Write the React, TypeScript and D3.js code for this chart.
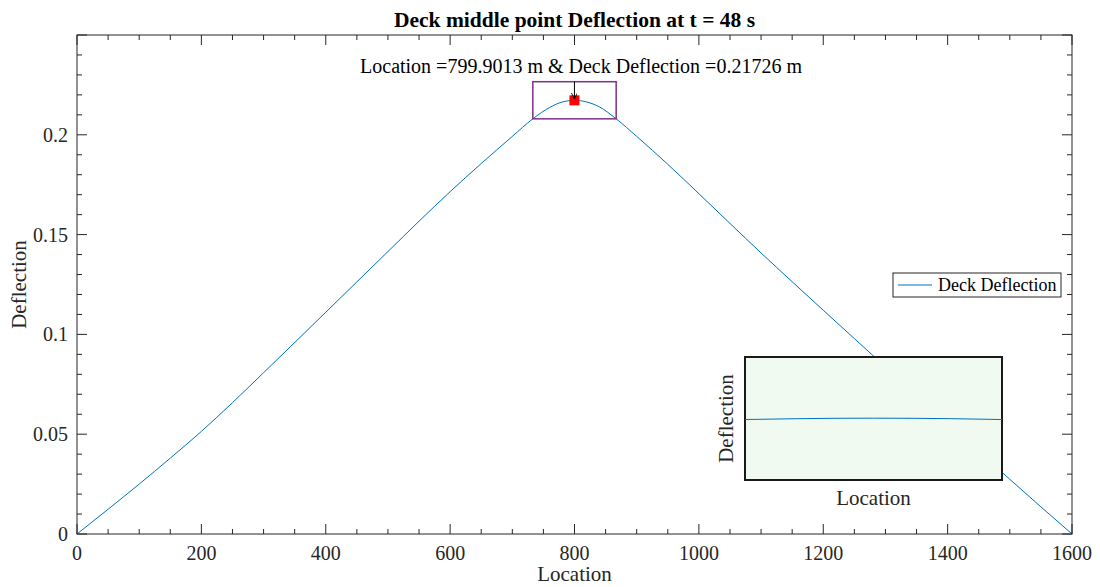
import React from "react";
import * as d3 from "d3";

const locations = [0, 50, 100, 150, 200, 250, 300, 350, 400, 450, 500, 550, 600, 650, 700, 733, 760, 780, 800, 820, 840, 867, 900, 950, 1000, 1050, 1100, 1150, 1200, 1250, 1300, 1350, 1400, 1450, 1500, 1550, 1600];
const deflections = [0, 0.0124, 0.025, 0.038, 0.0514, 0.0658, 0.0808, 0.0959, 0.1111, 0.1263, 0.1415, 0.1567, 0.1715, 0.1856, 0.1992, 0.208, 0.2137, 0.2164, 0.21726, 0.2164, 0.214, 0.208, 0.1992, 0.1852, 0.1705, 0.1556, 0.1408, 0.1264, 0.1121, 0.0979, 0.0837, 0.0696, 0.0555, 0.0414, 0.0274, 0.0136, 0];
const xTicks = [0, 200, 400, 600, 800, 1000, 1200, 1400, 1600];
const yTicks = [0, 0.05, 0.1, 0.15, 0.2];
const peakLocation = 799.9013;
const peakDeflection = 0.21726;
const zoomBox = { x0: 733, x1: 867, y0: 0.208, y1: 0.2266 };
const titleText = "Deck middle point Deflection at t = 48 s";
const annotationText = "Location =799.9013 m & Deck Deflection =0.21726 m";
const legendLabel = "Deck Deflection";

const W = 1100, H = 587;
const L = 77, R = 1072, T = 35, B = 534;
const FONT = "'Liberation Serif', 'Times New Roman', serif";
const AX = "#262626";
const BLUE = "#0072BD";

export default function App() {
  const x = d3.scaleLinear().domain([0, 1600]).range([L, R]);
  const y = d3.scaleLinear().domain([0, 0.25]).range([B, T]);
  const data = locations.map((l, i) => [l, deflections[i]] as [number, number]);
  const line = d3.line<[number, number]>().x(d => x(d[0])).y(d => y(d[1])).curve(d3.curveMonotoneX);

  const minorX = d3.range(0, 1601, 50);
  const minorY = d3.range(0, 26).map(i => i * 0.01);

  // inset
  const iL = 745, iR = 1002, iT = 357, iB = 480;
  const ix = d3.scaleLinear().domain([733, 867]).range([iL, iR]);
  const iy = d3.scaleLinear().domain([-0.2, 0.63]).range([iB, iT]);
  const insetData = data.filter(d => d[0] >= 733 && d[0] <= 867);
  const iline = d3.line<[number, number]>().x(d => ix(d[0])).y(d => iy(d[1])).curve(d3.curveMonotoneX);

  const px = x(peakLocation), py = y(peakDeflection);

  return (
    <svg width={W} height={H} style={{ position: "absolute", left: 0, top: 0, background: "#fff" }} fontFamily={FONT}>
      <defs>
        <clipPath id="plotclip"><rect x={L} y={T} width={R - L} height={B - T} /></clipPath>
        <marker id="arr" viewBox="0 0 10 10" refX="9" refY="5" markerWidth="6" markerHeight="6" orient="auto">
          <path d="M0,0 L10,5 L0,10" fill="none" stroke="#000" strokeWidth="1.5" />
        </marker>
      </defs>
      <rect x={0} y={0} width={W} height={H} fill="#fff" />
      {/* data line */}
      <path d={line(data) || ""} fill="none" stroke={BLUE} strokeWidth={1} clipPath="url(#plotclip)" />

      {/* zoom box */}
      <rect x={x(zoomBox.x0)} y={y(zoomBox.y1)} width={x(zoomBox.x1) - x(zoomBox.x0)} height={y(zoomBox.y0) - y(zoomBox.y1)} fill="none" stroke="#7E2F8E" strokeWidth={1.5} />
      <rect x={px - 5} y={py - 5} width={10} height={10} fill="#FF0000" />
      <line x1={px} y1={y(zoomBox.y1)} x2={px} y2={py - 2} stroke="#000" strokeWidth={1} markerEnd="url(#arr)" />
      <text x={581} y={72.5} textAnchor="middle" fontSize={20} fill="#000">{annotationText}</text>

      {/* axes box */}
      <rect x={L} y={T} width={R - L} height={B - T} fill="none" stroke={AX} strokeWidth={1} />
      {minorX.map(v => {
        const major = v % 200 === 0;
        const len = major ? 10 : 5;
        return (
          <g key={"mx" + v}>
            <line x1={x(v)} x2={x(v)} y1={B} y2={B - len} stroke={AX} />
            <line x1={x(v)} x2={x(v)} y1={T} y2={T + len} stroke={AX} />
          </g>
        );
      })}
      {minorY.map((v, i) => {
        const major = i % 5 === 0;
        const len = major ? 10 : 5;
        return (
          <g key={"my" + i}>
            <line x1={L} x2={L + len} y1={y(v)} y2={y(v)} stroke={AX} />
            <line x1={R} x2={R - len} y1={y(v)} y2={y(v)} stroke={AX} />
          </g>
        );
      })}
      {xTicks.map(v => (
        <text key={"xt" + v} x={x(v)} y={560} textAnchor="middle" fontSize={20} fill={AX}>{v}</text>
      ))}
      {yTicks.map(v => (
        <text key={"yt" + v} x={68} y={y(v) + 7} textAnchor="end" fontSize={20} fill={AX}>{v}</text>
      ))}
      <text x={(L + R) / 2} y={581} textAnchor="middle" fontSize={21} fill={AX}>Location</text>
      <text transform={`translate(26,${(T + B) / 2}) rotate(-90)`} textAnchor="middle" fontSize={21} fill={AX}>Deflection</text>
      <text x={(L + R) / 2} y={27} textAnchor="middle" fontSize={21.5} fontWeight="bold" fill="#000">{titleText}</text>

      {/* legend */}
      <rect x={893} y={273} width={168} height={24} fill="#fff" stroke={AX} strokeWidth={1} />
      <line x1={898} x2={932} y1={285} y2={285} stroke={BLUE} strokeWidth={1} />
      <text x={938} y={291} fontSize={18} fill="#000">{legendLabel}</text>

      {/* inset */}
      <rect x={iL} y={iT} width={iR - iL} height={iB - iT} fill="#F0FAF0" stroke="#1a1a1a" strokeWidth={2} />
      <path d={iline(insetData) || ""} fill="none" stroke={BLUE} strokeWidth={1} />
      <text transform={`translate(733,${(iT + iB) / 2}) rotate(-90)`} textAnchor="middle" fontSize={21} fill={AX}>Deflection</text>
      <text x={(iL + iR) / 2} y={505} textAnchor="middle" fontSize={21} fill={AX}>Location</text>
    </svg>
  );
}
